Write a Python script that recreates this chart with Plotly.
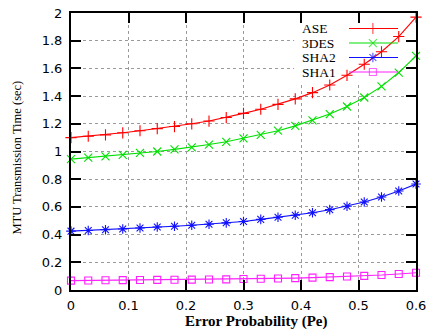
import plotly.graph_objects as go

# ---- data ----
pe = [0.00, 0.03, 0.06, 0.09, 0.12, 0.15, 0.18, 0.21, 0.24, 0.27, 0.30,
      0.33, 0.36, 0.39, 0.42, 0.45, 0.48, 0.51, 0.54, 0.57, 0.60]
ase = [1.10, 1.11, 1.12, 1.135, 1.15, 1.165, 1.18, 1.20, 1.22, 1.245, 1.275,
       1.305, 1.34, 1.38, 1.425, 1.48, 1.55, 1.63, 1.72, 1.83, 1.97]
des3 = [0.945, 0.955, 0.965, 0.975, 0.99, 1.00, 1.015, 1.03, 1.05, 1.07, 1.095,
        1.12, 1.15, 1.185, 1.225, 1.27, 1.325, 1.39, 1.47, 1.57, 1.69]
sha2 = [0.425, 0.43, 0.435, 0.44, 0.448, 0.455, 0.46, 0.467, 0.475, 0.485, 0.495,
        0.51, 0.525, 0.54, 0.558, 0.58, 0.605, 0.635, 0.672, 0.715, 0.765]
sha1 = [0.068, 0.069, 0.070, 0.071, 0.072, 0.073, 0.074, 0.075, 0.076, 0.077, 0.079,
        0.081, 0.083, 0.086, 0.089, 0.093, 0.097, 0.102, 0.108, 0.116, 0.125]

names = ["ASE", "3DES", "SHA2", "SHA1"]
series = [ase, des3, sha2, sha1]
colors = ["#ff0000", "#00e000", "#1010ff", "#ff20ff"]
symbols = ["cross-thin", "x-thin", "asterisk", "square-open"]
msizes = [8, 8, 8, 7]

x_ticks = [0, 0.1, 0.2, 0.3, 0.4, 0.5, 0.6]
x_ticklabels = ["0", "0.1", "0.2", "0.3", "0.4", "0.5", "0.6"]
y_ticks = [0, 0.2, 0.4, 0.6, 0.8, 1.0, 1.2, 1.4, 1.6, 1.8, 2.0]
y_ticklabels = ["0", "0.2", "0.4", "0.6", "0.8", "1", "1.2", "1.4", "1.6", "1.8", "2"]

# key (legend) placement in data units
key_x = [0.4835, 0.525, 0.5687]
key_y = [1.888, 1.783, 1.679, 1.574]
key_text_x = 0.4035
key_box = [0.388, 1.502, 0.581, 1.949]

fig = go.Figure()

for name, ys, c, s, ms in zip(names, series, colors, symbols, msizes):
    fig.add_trace(go.Scatter(
        x=pe, y=ys, mode="lines+markers", name=name,
        line=dict(color=c, width=1.1),
        marker=dict(symbol=s, size=ms, color=c, line=dict(color=c, width=1.1)),
        cliponaxis=False, showlegend=False))

# key samples
for name, ky, c, s, ms in zip(names, key_y, colors, symbols, msizes):
    fig.add_trace(go.Scatter(
        x=key_x, y=[ky] * 3, mode="lines+markers",
        line=dict(color=c, width=1.1),
        marker=dict(symbol=s, size=[0, ms, 0], color=c, line=dict(color=c, width=1.1)),
        showlegend=False, hoverinfo="skip"))
    fig.add_annotation(x=key_text_x, y=ky, xref="x", yref="y", text=name,
                       showarrow=False, xanchor="left", yanchor="middle",
                       xshift=-2, borderpad=0,
                       font=dict(family="Liberation Serif", size=13.5, color="black"))

fig.add_shape(type="rect", xref="x", yref="y",
              x0=key_box[0], y0=key_box[1], x1=key_box[2], y1=key_box[3],
              fillcolor="white", line=dict(width=0), layer="between")

axis_common = dict(
    showline=True, linecolor="black", linewidth=2, mirror="ticks",
    ticks="inside", ticklen=10, tickwidth=1.5, tickcolor="black",
    showgrid=True, gridcolor="#9a9a9a", gridwidth=1, griddash="dot",
    zeroline=False, automargin=False,
    tickfont=dict(family="DejaVu Sans", size=13, color="black"),
)

fig.update_xaxes(range=[0, 0.6], tickvals=x_ticks, ticktext=x_ticklabels,
                 ticklabelstandoff=2, **axis_common)
fig.update_yaxes(range=[0, 2], tickvals=y_ticks, ticktext=y_ticklabels,
                 ticklabelstandoff=4, **axis_common)

fig.add_annotation(text="MTU Transmission Time (sec)", xref="paper", yref="paper",
                   x=(17 - 71) / 345, y=0.478, textangle=-90, showarrow=False,
                   xanchor="center", yanchor="middle",
                   font=dict(family="Liberation Serif", size=12.5, color="black"))
fig.add_annotation(text="<b>Error Probability (Pe)</b>", xref="paper", yref="paper",
                   x=(256 - 71) / 345, y=-(321 - 290) / 277, showarrow=False,
                   xanchor="center", yanchor="middle", borderpad=0,
                   font=dict(family="Liberation Serif", size=15, color="black"))

fig.update_layout(
    width=432, height=331,
    margin=dict(l=71, r=16, t=13, b=41),
    paper_bgcolor="white", plot_bgcolor="white",
)

fig.write_html("out.html")
